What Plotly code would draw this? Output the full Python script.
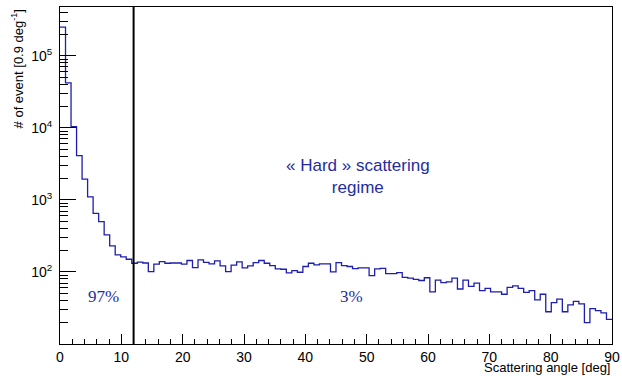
import numpy as np
import plotly.graph_objects as go

# Histogram: 100 bins of 0.9 deg from 0 to 90
bin_width = 0.9
counts = [
    250000, 42000, 10400, 4100, 1940, 1100, 650, 500, 327, 230,
    172, 162, 150, 132, 137, 133, 101, 128, 139, 132,
    133, 133, 128, 144, 115, 147, 136, 129, 142, 121,
    101, 124, 138, 114, 121, 135, 144, 132, 122, 110,
    109, 97, 104, 99, 119, 132, 125, 129, 129, 100,
    135, 122, 119, 111, 114, 114, 89, 110, 112, 95,
    95, 98, 84, 82, 79, 76, 83, 53, 77, 71,
    73, 82, 58, 77, 63, 70, 55, 59, 53, 53,
    49, 61, 64, 59, 52, 55, 41, 49, 28, 37.5,
    42, 28, 35, 39, 36, 19.8, 31, 29, 27, 22,
]
cut_angle = 12
label_left = "97%"
label_right = "3%"
regime_text = "« Hard » scattering<br>regime"
x_title = "Scattering angle [deg]"
y_title = "# of event [0.9 deg<sup>-1</sup>]"
x_major = [0, 10, 20, 30, 40, 50, 60, 70, 80, 90]
y_major = [1e2, 1e3, 1e4, 1e5]
y_major_text = ["10<sup>2</sup>", "10<sup>3</sup>", "10<sup>4</sup>", "10<sup>5</sup>"]

edges = np.arange(len(counts) + 1) * bin_width
yvals = list(counts) + [counts[-1]]

y_minor = [m * 10 ** e for e in range(1, 6) for m in range(2, 10)]

blue = "rgb(30,30,175)"
txt_blue = "rgb(35,45,160)"
font_family = "Liberation Sans, Arial, sans-serif"
serif_family = "Liberation Serif, Times New Roman, serif"

fig = go.Figure()
fig.add_trace(go.Scatter(
    x=edges, y=yvals, mode="lines", line=dict(shape="hv", color=blue, width=1.3),
    hoverinfo="skip", showlegend=False,
))

ymin_log, ymax_log = 1.0, 5.676

fig.add_trace(go.Scatter(
    x=[cut_angle, cut_angle], y=[10 ** ymin_log, 10 ** ymax_log], mode="lines",
    line=dict(color="black", width=2), hoverinfo="skip", showlegend=False,
))

fig.update_layout(
    width=622, height=376,
    margin=dict(l=60, r=10, t=7, b=32, autoexpand=False),
    paper_bgcolor="white", plot_bgcolor="white",
    font=dict(family=font_family, size=14, color="black"),
    xaxis=dict(
        range=[0, 90], showgrid=False, zeroline=False, automargin=False,
        showline=True, linecolor="black", linewidth=1, mirror=True,
        ticks="inside", ticklen=10, tickcolor="black", tickwidth=1,
        tickmode="array", tickvals=x_major,
        minor=dict(dtick=2, ticks="inside", ticklen=5, tickcolor="black", tickwidth=1, showgrid=False),
        tickfont=dict(size=14), ticklabelstandoff=0,
    ),
    yaxis=dict(
        type="log", range=[ymin_log, ymax_log], showgrid=False, zeroline=False, automargin=False,
        showline=True, linecolor="black", linewidth=1, mirror=True,
        ticks="inside", ticklen=16, tickcolor="black", tickwidth=1,
        tickmode="array", tickvals=y_major, ticktext=y_major_text,
        minor=dict(tickvals=y_minor, ticks="inside", ticklen=8, tickcolor="black", tickwidth=1, showgrid=False),
        tickfont=dict(size=14), ticklabelstandoff=4,
    ),
)

fig.add_annotation(
    text=y_title, textangle=-90, xref="paper", yref="paper",
    x=-0.078, y=1.0, xanchor="center", yanchor="top", showarrow=False,
    font=dict(size=13, family=font_family, color="black"),
)
fig.add_annotation(
    text=x_title, xref="paper", yref="paper",
    x=1.0, y=-0.069, xanchor="right", yanchor="middle", showarrow=False,
    font=dict(size=13, family=font_family, color="black"),
)
fig.add_annotation(
    text=regime_text, xref="x", yref="paper", x=48.6, y=0.497,
    xanchor="center", yanchor="middle", showarrow=False,
    font=dict(size=17, family=font_family, color=txt_blue),
)
fig.add_annotation(
    text=label_left, xref="x", yref="y", x=7.05, y=np.log10(45),
    xanchor="center", yanchor="middle", showarrow=False,
    font=dict(size=17, family=serif_family, color=txt_blue),
)
fig.add_annotation(
    text=label_right, xref="x", yref="y", x=47.6, y=np.log10(45),
    xanchor="center", yanchor="middle", showarrow=False,
    font=dict(size=17, family=serif_family, color=txt_blue),
)

fig.write_html("out.html")
